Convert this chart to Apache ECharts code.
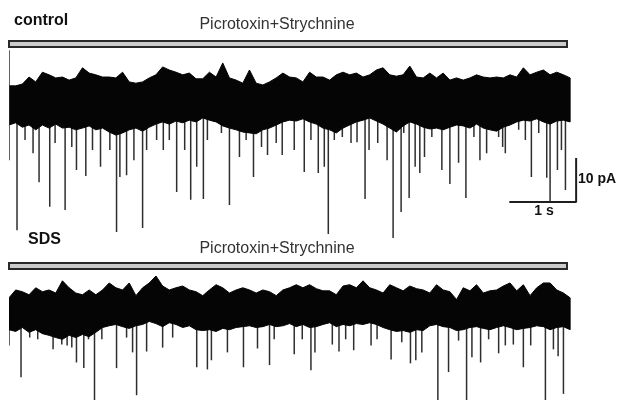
<!DOCTYPE html>
<html><head><meta charset="utf-8">
<script src="https://cdn.jsdelivr.net/npm/echarts@6/dist/echarts.min.js"></script>
<style>html,body{margin:0;padding:0;background:#fff}#c{width:622px;height:400px}</style>
</head><body><div id="c"></div>
<script>
// sample times of the envelope readings (s)
const sampleTimes = [0,0.1,0.2,0.3,0.4,0.5,0.6,0.7,0.8,0.9,1,1.1,1.2,1.3,1.4,1.5,1.6,1.7,1.8,1.9,2,2.1,2.2,2.3,2.4,2.5,2.6,2.7,2.8,2.9,3,3.1,3.2,3.3,3.4,3.5,3.6,3.7,3.8,3.9,4,4.1,4.2,4.3,4.4,4.5,4.6,4.7,4.8,4.9,5,5.1,5.2,5.3,5.4,5.5,5.6,5.7,5.8,5.9,6,6.1,6.2,6.3,6.4,6.5,6.6,6.7,6.8,6.9,7,7.1,7.2,7.3,7.4,7.5,7.6,7.7,7.8,7.9,8,8.1,8.2,8.3,8.4];

// control trace: upper / lower edge of the noise band (pA)
const ctrlTop = [3.9,3.9,4.3,5.9,4.8,7.0,6.4,5.7,5.9,5.2, 5.7,8.0,6.8,6.4,5.9,5.9,5.7,7.0,4.8,4.5, 4.8,5.7,6.4,8.2,7.5,7.0,6.4,6.8,5.5,5.5, 7.0,5.9,9.1,5.7,5.2,4.5,7.5,4.5,4.1,4.8, 5.7,6.8,5.9,5.7,4.8,7.0,5.9,5.9,5.2,6.4, 7.0,6.4,6.8,5.9,6.4,7.5,8.0,6.4,6.1,6.4, 8.4,5.9,5.7,6.8,5.7,6.8,5.2,5.7,5.2,5.7, 6.4,5.9,5.7,5.9,5.7,6.4,5.9,8.0,6.4,7.0, 7.5,6.4,7.0,6.4,5.7];
const ctrlBottom = [-5.0,-4.5,-5.5,-5.0,-6.1,-5.0,-5.7,-4.8,-5.7, -5.5,-6.1,-5.7,-5.2,-6.1,-5.7,-6.6,-7.3, -6.8,-6.1,-5.7,-6.4,-5.5,-4.8, -4.3,-4.8,-4.1,-4.5,-3.9,-4.3,-3.4, -3.9,-4.3,-5.2,-5.7,-6.1, -6.6,-6.8,-7.0,-6.1,-5.7, -5.0,-4.3,-3.9,-4.1,-3.6,-4.3,-4.8,-5.7, -6.1,-6.8,-5.7,-5.0,-4.3,-3.9, -3.4,-4.1,-4.8,-5.7,-6.6,-5.2,-4.3, -4.8,-5.5,-5.9,-5.7,-6.1,-5.5,-5.0,-5.2,-5.7,-4.8, -5.7,-6.1,-6.4,-5.5,-5.0,-4.3,-3.9,-4.1,-3.6,-4.3,-4.8,-4.1,-3.9,-4.3];
// control trace: inward current events [time s, peak pA]
const ctrlEvents = [[0.12,-28.9],[0.24,-8.4],[0.36,-11.4],[0.45,-18.0],[0.61,-23.6],[0.69,-9.1],[0.84,-24.3],[0.94,-10.0],[1.01,-15.2],[1.15,-16.6],[1.25,-10.7],[1.37,-14.5],[1.51,-10.7],[1.61,-29.3],[1.66,-16.8],[1.76,-16.4],[1.87,-13.0],[2.00,-28.4],[2.06,-10.7],[2.21,-8.4],[2.31,-10.7],[2.40,-8.4],[2.51,-20.2],[2.63,-10.7],[2.72,-22.0],[2.81,-14.5],[2.91,-21.8],[2.97,-8.4],[3.18,-6.8],[3.30,-23.2],[3.45,-12.3],[3.55,-8.4],[3.66,-16.8],[3.78,-10.0],[3.87,-11.8],[4.00,-9.1],[4.09,-11.8],[4.27,-10.7],[4.42,-15.7],[4.52,-8.4],[4.63,-15.9],[4.72,-14.5],[4.78,-29.8],[4.87,-8.4],[4.99,-7.7],[5.12,-9.1],[5.21,-8.9],[5.33,-21.8],[5.39,-10.7],[5.52,-9.1],[5.66,-13.0],[5.75,-30.7],[5.87,-24.8],[5.91,-6.8],[5.99,-21.6],[6.08,-14.5],[6.15,-15.9],[6.22,-12.3],[6.33,-7.7],[6.48,-15.2],[6.60,-18.4],[6.73,-13.6],[6.84,-21.6],[6.96,-7.7],[7.05,-13.0],[7.15,-11.4],[7.33,-7.7],[7.39,-10.0],[7.43,-11.4],[7.63,-6.1],[7.73,-8.4],[7.82,-16.8],[7.93,-6.8],[8.05,-17.0],[8.10,-22.5],[8.21,-15.2],[8.27,-10.7],[8.33,-19.8]];
// control trace: onset artefact [time s, from pA, to pA]
const ctrlOnset = [[0.0, 12.0, -13.0]];

// SDS trace: upper / lower edge of the noise band (pA)
const sdsTop = [3.4,5.2,4.8,4.1,5.7,4.8,5.2,4.5,7.3,5.7, 4.5,4.1,5.2,4.1,5.2,6.8,5.7,5.2,6.8,3.9, 5.7,6.8,8.4,6.1,5.2,5.7,6.1,5.2,4.8,3.9, 5.2,6.4,5.7,4.5,5.2,5.7,5.2,4.5,5.2,4.8, 3.9,5.2,5.7,6.4,5.7,6.4,5.5,5.0,5.0,4.1, 6.1,6.4,5.7,7.3,5.7,5.2,4.5,6.4,5.7,5.0, 6.1,5.5,5.2,4.5,6.4,5.2,4.8,3.0,5.7,5.0, 6.4,4.5,5.0,5.2,6.1,6.8,5.0,6.4,3.9,5.7, 6.8,6.8,5.2,4.5,3.4];
const sdsBottom = [-3.9,-4.3,-3.4,-4.5,-3.9,-4.8,-5.2, -5.7,-6.1,-5.2,-5.7,-5.0,-5.5,-4.5, -3.4,-3.0,-2.7,-3.2,-3.6,-3.0, -2.7,-2.0,-2.5,-3.2,-2.3,-2.7,-3.4,-3.0,-3.9, -4.1,-3.9,-4.3,-3.6,-3.9,-3.4,-3.2, -3.0,-3.4,-3.2,-2.7,-3.2,-3.0,-2.5,-3.2,-2.7, -3.4,-3.2,-2.7,-2.3,-3.2,-2.7,-3.0,-2.5,-2.7, -2.3,-2.7,-3.4,-3.9,-4.3,-4.1,-4.5, -3.9,-4.1,-3.0,-2.7,-3.2,-3.4,-4.1, -3.9,-3.4,-3.2,-3.6,-3.9,-3.4,-3.0,-3.4,-3.9, -3.6,-3.4,-3.0,-3.2,-3.9,-3.4,-3.2,-3.9];
// SDS trace: inward current events [time s, peak pA]
const sdsEvents = [[0.00,-7.5],[0.18,-14.8],[0.31,-5.7],[0.43,-6.1],[0.66,-8.4],[0.79,-7.3],[0.87,-7.5],[0.94,-8.0],[1.01,-11.4],[1.12,-12.7],[1.19,-6.1],[1.28,-23.0],[1.39,-6.1],[1.61,-12.7],[1.76,-5.7],[1.85,-9.1],[1.91,-18.9],[2.06,-8.9],[2.30,-8.0],[2.45,-5.7],[2.81,-12.5],[2.97,-13.0],[3.03,-10.9],[3.27,-9.1],[3.51,-12.5],[3.72,-8.2],[3.90,-12.0],[3.97,-6.1],[4.27,-9.5],[4.39,-6.1],[4.52,-13.2],[4.58,-9.1],[4.84,-7.3],[4.94,-8.9],[5.04,-6.1],[5.16,-8.6],[5.42,-7.5],[5.51,-6.1],[5.72,-10.7],[5.88,-6.8],[6.01,-11.6],[6.09,-10.9],[6.18,-9.1],[6.42,-23.0],[6.58,-13.6],[6.73,-6.4],[6.85,-23.0],[6.93,-10.2],[7.06,-11.4],[7.18,-6.1],[7.33,-9.3],[7.43,-7.5],[7.55,-7.3],[7.70,-12.5],[7.81,-7.5],[8.03,-23.0],[8.15,-8.4],[8.22,-10.0],[8.30,-18.6]];

// scale bar (1 s, 10 pA) drawn in control-trace units
const scaleBarTime = [7.49, 8.49];
const scaleBarCurrent = [-22.5, -12.5];

const traceNames = ['control', 'SDS'];
const drugLabel = 'Picrotoxin+Strychnine';
const scaleLabels = ['10 pA', '1 s'];

const FONT = '"Liberation Sans", Arial, Helvetica, sans-serif';
const BAND = '#050505';
const SPIKE = '#2e2e2e';

// whole noise band drawn as one polygon (top edge forward, bottom edge back)
function bandSeries(top, bottom, idx) {
  const pts = sampleTimes.map((t, i) => [t, top[i], bottom[i]]);
  return {
    type: 'custom', xAxisIndex: idx, yAxisIndex: idx, clip: true, silent: true, z: 3,
    data: pts,
    renderItem(params, api) {
      if (params.dataIndex !== 0) return { type: 'group', children: [] };
      const upper = pts.map(p => api.coord([p[0], p[1]]));
      const lower = pts.map(p => api.coord([p[0], p[2]])).reverse();
      return { type: 'polygon', shape: { points: upper.concat(lower) }, style: { fill: BAND, stroke: BAND, lineWidth: 1 } };
    }
  };
}
function eventSeries(events, idx) {
  return {
    type: 'custom', xAxisIndex: idx, yAxisIndex: idx, clip: true, silent: true, z: 2,
    data: events,
    renderItem(params, api) {
      const a = api.coord([api.value(0), 0]);
      const b = api.coord([api.value(0), api.value(1)]);
      return { type: 'line', shape: { x1: a[0], y1: a[1], x2: b[0], y2: b[1] }, style: { stroke: SPIKE, lineWidth: 1.5 } };
    }
  };
}

const chart = echarts.init(document.getElementById('c'), null, { renderer: 'canvas' });
const axisOff = { show: false, splitLine: { show: false } };
chart.setOption({
  animation: false,
  backgroundColor: '#ffffff',
  grid: [
    { left: 9, top: 45.8, width: 601.2, height: 202.4 },
    { left: 9, top: 269, width: 601.2, height: 132 }
  ],
  xAxis: [
    Object.assign({ type: 'value', gridIndex: 0, min: 0, max: 9 }, axisOff),
    Object.assign({ type: 'value', gridIndex: 1, min: 0, max: 9 }, axisOff)
  ],
  yAxis: [
    Object.assign({ type: 'value', gridIndex: 0, min: -33, max: 13 }, axisOff),
    Object.assign({ type: 'value', gridIndex: 1, min: -20, max: 10 }, axisOff)
  ],
  series: [
    eventSeries(ctrlEvents, 0),
    bandSeries(ctrlTop, ctrlBottom, 0),
    {
      type: 'custom', xAxisIndex: 0, yAxisIndex: 0, clip: true, silent: true, z: 4,
      data: ctrlOnset,
      renderItem(params, api) {
        const a = api.coord([api.value(0), api.value(1)]);
        const b = api.coord([api.value(0), api.value(2)]);
        return { type: 'line', shape: { x1: a[0], y1: a[1], x2: b[0], y2: b[1] }, style: { stroke: SPIKE, lineWidth: 1.5 } };
      }
    },
    eventSeries(sdsEvents, 1),
    bandSeries(sdsTop, sdsBottom, 1),
    {
      type: 'line', xAxisIndex: 0, yAxisIndex: 0, symbol: 'none', silent: true, z: 5,
      lineStyle: { color: '#1e1e1e', width: 2 },
      data: [[scaleBarTime[0], scaleBarCurrent[0]], [scaleBarTime[1], scaleBarCurrent[0]], [scaleBarTime[1], scaleBarCurrent[1]]]
    }
  ],
  graphic: [
    { type: 'rect', shape: { x: 9, y: 41, width: 558, height: 6 }, style: { fill: '#cccccc', stroke: '#2a2a2a', lineWidth: 2 } },
    { type: 'rect', shape: { x: 9, y: 263, width: 558, height: 6 }, style: { fill: '#cccccc', stroke: '#2a2a2a', lineWidth: 2 } },
    { type: 'text', x: 14, y: 21, style: { text: traceNames[0], font: 'bold 16px ' + FONT, fill: '#111', align: 'left', verticalAlign: 'middle' } },
    { type: 'text', x: 28, y: 240, style: { text: traceNames[1], font: 'bold 16px ' + FONT, fill: '#111', align: 'left', verticalAlign: 'middle' } },
    { type: 'text', x: 277, y: 25, style: { text: drugLabel, font: '16px ' + FONT, fill: '#333', align: 'center', verticalAlign: 'middle' } },
    { type: 'text', x: 277, y: 249, style: { text: drugLabel, font: '16px ' + FONT, fill: '#333', align: 'center', verticalAlign: 'middle' } },
    { type: 'text', x: 578, y: 179, style: { text: scaleLabels[0], font: 'bold 14px ' + FONT, fill: '#111', align: 'left', verticalAlign: 'middle' } },
    { type: 'text', x: 544, y: 211, style: { text: scaleLabels[1], font: 'bold 14px ' + FONT, fill: '#111', align: 'center', verticalAlign: 'middle' } }
  ]
});
</script>
</body></html>
